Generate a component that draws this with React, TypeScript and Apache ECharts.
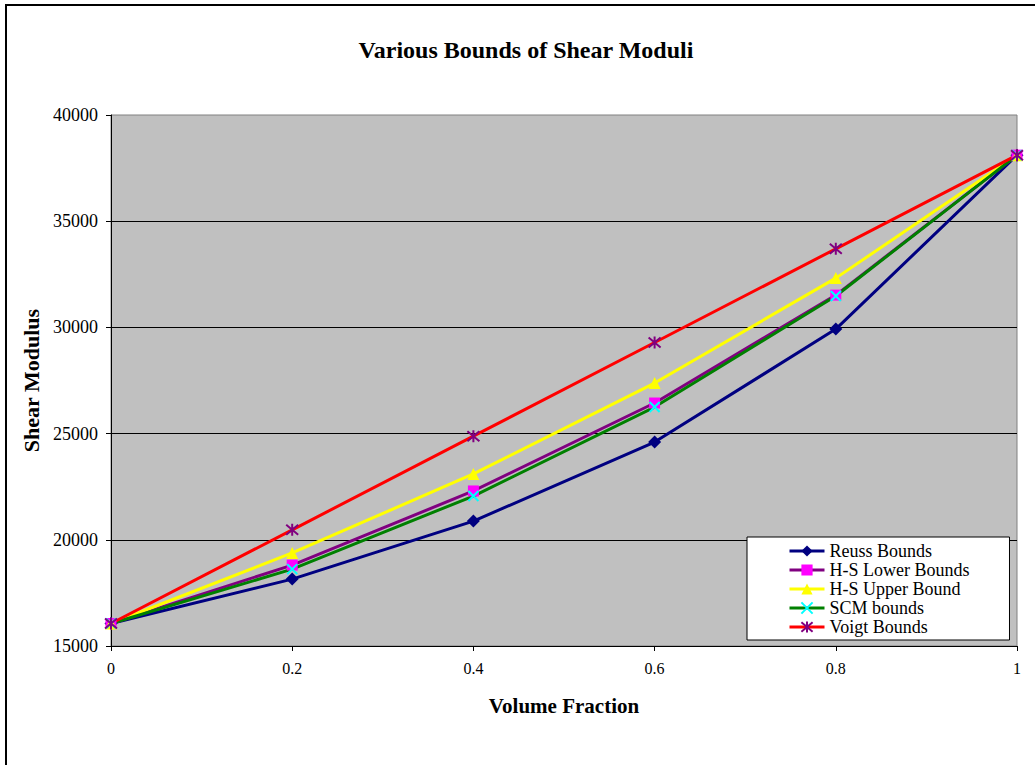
import React, { useEffect, useRef } from "react";
import * as echarts from "echarts";

const xValues = [0, 0.2, 0.4, 0.6, 0.8, 1];
const reuss = [16060, 18150, 20880, 24600, 29920, 38110];
const hsLower = [16060, 18810, 22300, 26440, 31520, 38110];
const hsUpper = [16060, 19380, 23100, 27380, 32320, 38110];
const scm = [16060, 18620, 22060, 26250, 31480, 38110];
const voigt = [16060, 20470, 24880, 29290, 33700, 38110];

const seriesNames = ["Reuss Bounds", "H-S Lower Bounds", "H-S Upper Bound", "SCM bounds", "Voigt Bounds"];

const FONT = "'Liberation Serif', 'Times New Roman', serif";

const pair = (arr: number[]) => xValues.map((x, i) => [x, arr[i]]);

export default function App() {
  const ref = useRef<HTMLDivElement>(null);
  useEffect(() => {
    document.body.style.margin = "0";
    const chart = echarts.init(ref.current!, null, { renderer: "svg" });
    const mk = (
      name: string,
      data: number[],
      lineColor: string,
      symbol: string,
      symbolColor: string,
      symbolSize: number,
      stroke?: boolean
    ) => ({
      name,
      type: "line",
      data: pair(data),
      symbol,
      symbolSize,
      showSymbol: true,
      lineStyle: { color: lineColor, width: 3 },
      itemStyle: stroke
        ? { color: symbolColor, borderColor: symbolColor, borderWidth: 2 }
        : { color: symbolColor, borderWidth: 0 },
      emphasis: { disabled: true },
    });
    chart.setOption({
      animation: false,
      backgroundColor: "#ffffff",
      textStyle: { fontFamily: FONT },
      graphic: [
        {
          type: "rect",
          shape: { x: 6, y: 5, width: 1200, height: 900 },
          style: { fill: "none", stroke: "#000", lineWidth: 2 },
          z: 100,
        },
        {
          type: "text",
          x: 526,
          y: 50,
          style: {
            text: "Various Bounds of Shear Moduli",
            font: `bold 24px ${FONT}`,
            fill: "#000",
            textAlign: "center",
            textVerticalAlign: "middle",
          },
        },
      ],
      grid: {
        left: 111,
        top: 115,
        width: 906,
        height: 531,
        show: true,
        backgroundColor: "#C0C0C0",
        borderColor: "#808080",
        borderWidth: 1,
      },
      legend: {
        orient: "vertical",
        left: 747,
        top: 537,
        padding: [5, 40, 4, 41],
        itemGap: 1,
        itemWidth: 35,
        itemHeight: 14,
        backgroundColor: "#ffffff",
        borderColor: "#000",
        borderWidth: 1,
        borderRadius: 0,
        lineStyle: { width: 3 },
        textStyle: { fontFamily: FONT, fontSize: 18, color: "#000" },
        data: seriesNames,
        selectedMode: false,
      },
      xAxis: {
        type: "value",
        min: 0,
        max: 1,
        interval: 0.2,
        name: "Volume Fraction",
        nameLocation: "middle",
        nameGap: 49,
        nameTextStyle: { fontFamily: FONT, fontSize: 21, fontWeight: "bold", color: "#000" },
        axisLine: { show: true, lineStyle: { color: "#000", width: 1 } },
        axisTick: { show: true, inside: false, length: 5, lineStyle: { color: "#000" } },
        axisLabel: {
          fontFamily: FONT,
          fontSize: 16,
          color: "#000",
          margin: 14,
          formatter: (v: number) => String(Math.round(v * 10) / 10),
        },
        splitLine: { show: false },
      },
      yAxis: {
        type: "value",
        min: 15000,
        max: 40000,
        interval: 5000,
        name: "Shear Modulus",
        nameLocation: "middle",
        nameGap: 68,
        nameTextStyle: { fontFamily: FONT, fontSize: 22, fontWeight: "bold", color: "#000" },
        axisLine: { show: true, lineStyle: { color: "#000", width: 1 } },
        axisTick: { show: true, inside: false, length: 5, lineStyle: { color: "#000" } },
        axisLabel: {
          fontFamily: FONT,
          fontSize: 18,
          color: "#000",
          margin: 13,
          formatter: (v: number) => String(v),
        },
        splitLine: { show: true, showMinLine: false, showMaxLine: false, lineStyle: { color: "#000", width: 1 } },
      },
      series: [
        mk(seriesNames[0], reuss, "#000080", "diamond", "#000080", 13),
        mk(seriesNames[1], hsLower, "#800080", "rect", "#FF00FF", 11),
        mk(seriesNames[2], hsUpper, "#FFFF00", "triangle", "#FFFF00", 12),
        mk(seriesNames[3], scm, "#008000", "path://M0,0L10,10M10,0L0,10", "#00FFFF", 10, true),
        mk(seriesNames[4], voigt, "#FF0000", "path://M0,0L10,10M10,0L0,10M5,-1L5,11", "#800080", 12, true),
      ],
    });
    return () => chart.dispose();
  }, []);
  return <div ref={ref} style={{ width: 1035, height: 765 }} />;
}
